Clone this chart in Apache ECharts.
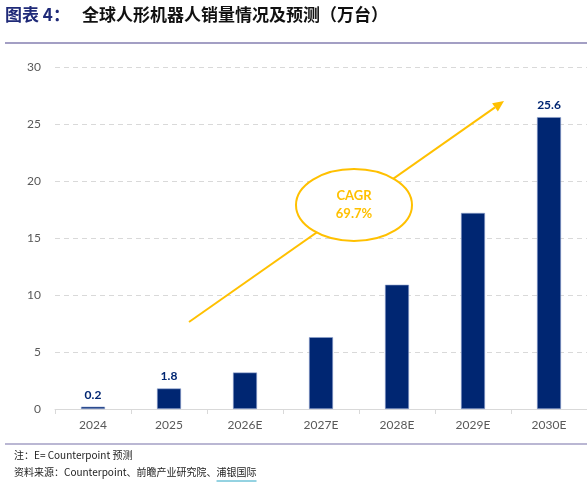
<!DOCTYPE html>
<html>
<head>
<meta charset="utf-8">
<script src="https://cdn.jsdelivr.net/npm/echarts@6/dist/echarts.min.js"></script>
<style>
html,body{margin:0;padding:0;background:#fff;}
#c{width:587px;height:485px;}
</style>
</head>
<body>
<div id="c"></div>
<script>
const categories = ['2024','2025','2026E','2027E','2028E','2029E','2030E'];
const sales = [0.2, 1.8, 3.2, 6.3, 10.9, 17.2, 25.6];
const labelled = [true, true, false, false, false, false, true];
const yTicks = [0, 5, 10, 15, 20, 25, 30];
const titleLead = '图表 4：';
const titleMain = '全球人形机器人销量情况及预测（万台）';
const noteText = '注：E= Counterpoint 预测';
const sourceLead = '资料来源：Counterpoint、前瞻产业研究院、';
const sourceTail = '浦银国际';
const cagrText = 'CAGR\n69.7%';

const NAVY = '#002672';
const GOLD = '#FFC000';
const RULE = '#A39FC4';
const CJK = '"Noto Sans CJK SC", sans-serif';
const LAT = 'Lato, "Noto Sans", sans-serif';
const FOOT = '10px ' + CJK;

const chart = echarts.init(document.getElementById('c'), null, {renderer:'canvas'});

// measure footer text for underline placement
const mc = document.createElement('canvas').getContext('2d');
mc.font = FOOT;
const leadW = mc.measureText(sourceLead).width;
const tailW = mc.measureText(sourceTail).width;
const srcX = 14;

// arrow geometry
const ax0 = 189, ay0 = 322, ax1 = 504, ay1 = 101;
const ang = Math.atan2(ay1 - ay0, ax1 - ax0);
const hl = 11, hw = 5;
const bx = ax1 - hl*Math.cos(ang), by = ay1 - hl*Math.sin(ang);
const head = [
  [ax1, ay1],
  [bx + hw*Math.sin(ang), by - hw*Math.cos(ang)],
  [bx - hw*Math.sin(ang), by + hw*Math.cos(ang)]
];

chart.setOption({
  animation:false,
  grid:{left:55, right:0, top:67, bottom:76},
  xAxis:{
    type:'category',
    data:categories,
    axisLine:{lineStyle:{color:'#D9D9D9', width:1}},
    axisTick:{show:true, length:5, lineStyle:{color:'#D9D9D9'}},
    axisLabel:{color:'#595959', fontSize:12, fontFamily:LAT, margin:10}
  },
  yAxis:{
    type:'value', min:0, max:30, interval:5,
    axisLine:{show:false}, axisTick:{show:false},
    axisLabel:{color:'#595959', fontSize:12, fontFamily:LAT, margin:14,
      formatter:v => yTicks.includes(v) ? String(v) : ''},
    splitLine:{lineStyle:{color:'#D9D9D9', type:[5,4], width:1}}
  },
  series:[{
    type:'bar',
    data:sales.map((v,i)=>({value:v, label:{show:labelled[i]}})),
    barWidth:24,
    itemStyle:{color:NAVY, borderColor:'#8FA3CF', borderWidth:0.6},
    label:{position:'top', color:NAVY, fontWeight:'bold', fontSize:12, fontFamily:LAT, distance:6},
    z:2
  }],
  graphic:[
    {type:'text', left:5, top:6, style:{text:titleLead, fill:'#1F2A78', font:'bold 17px '+CJK}},
    {type:'text', left:82, top:6, style:{text:titleMain, fill:'#111', font:'bold 17px '+CJK}},
    {type:'line', shape:{x1:5, y1:43, x2:587, y2:43}, style:{stroke:RULE, lineWidth:2}},
    {type:'line', shape:{x1:5, y1:444, x2:587, y2:444}, style:{stroke:RULE, lineWidth:1.5}},
    {type:'text', left:srcX, top:450, style:{text:noteText, fill:'#222', font:FOOT}},
    {type:'text', left:srcX, top:467, style:{text:sourceLead + sourceTail, fill:'#222', font:FOOT}},
    {type:'line', shape:{x1:srcX+leadW, y1:481, x2:srcX+leadW+tailW, y2:481}, style:{stroke:'#2BA6C4', lineWidth:1}},
    {type:'line', z:10, shape:{x1:ax0, y1:ay0, x2:bx, y2:by}, style:{stroke:GOLD, lineWidth:2}},
    {type:'polygon', z:10, shape:{points:head}, style:{fill:GOLD}},
    {type:'ellipse', z:11, shape:{cx:354, cy:205, rx:58, ry:36}, style:{fill:'#fff', stroke:GOLD, lineWidth:2}},
    {type:'text', z:12, x:354, y:205, style:{text:cagrText, fill:GOLD, font:'bold 13px '+LAT, align:'center', verticalAlign:'middle', lineHeight:18}}
  ]
});
</script>
</body>
</html>
